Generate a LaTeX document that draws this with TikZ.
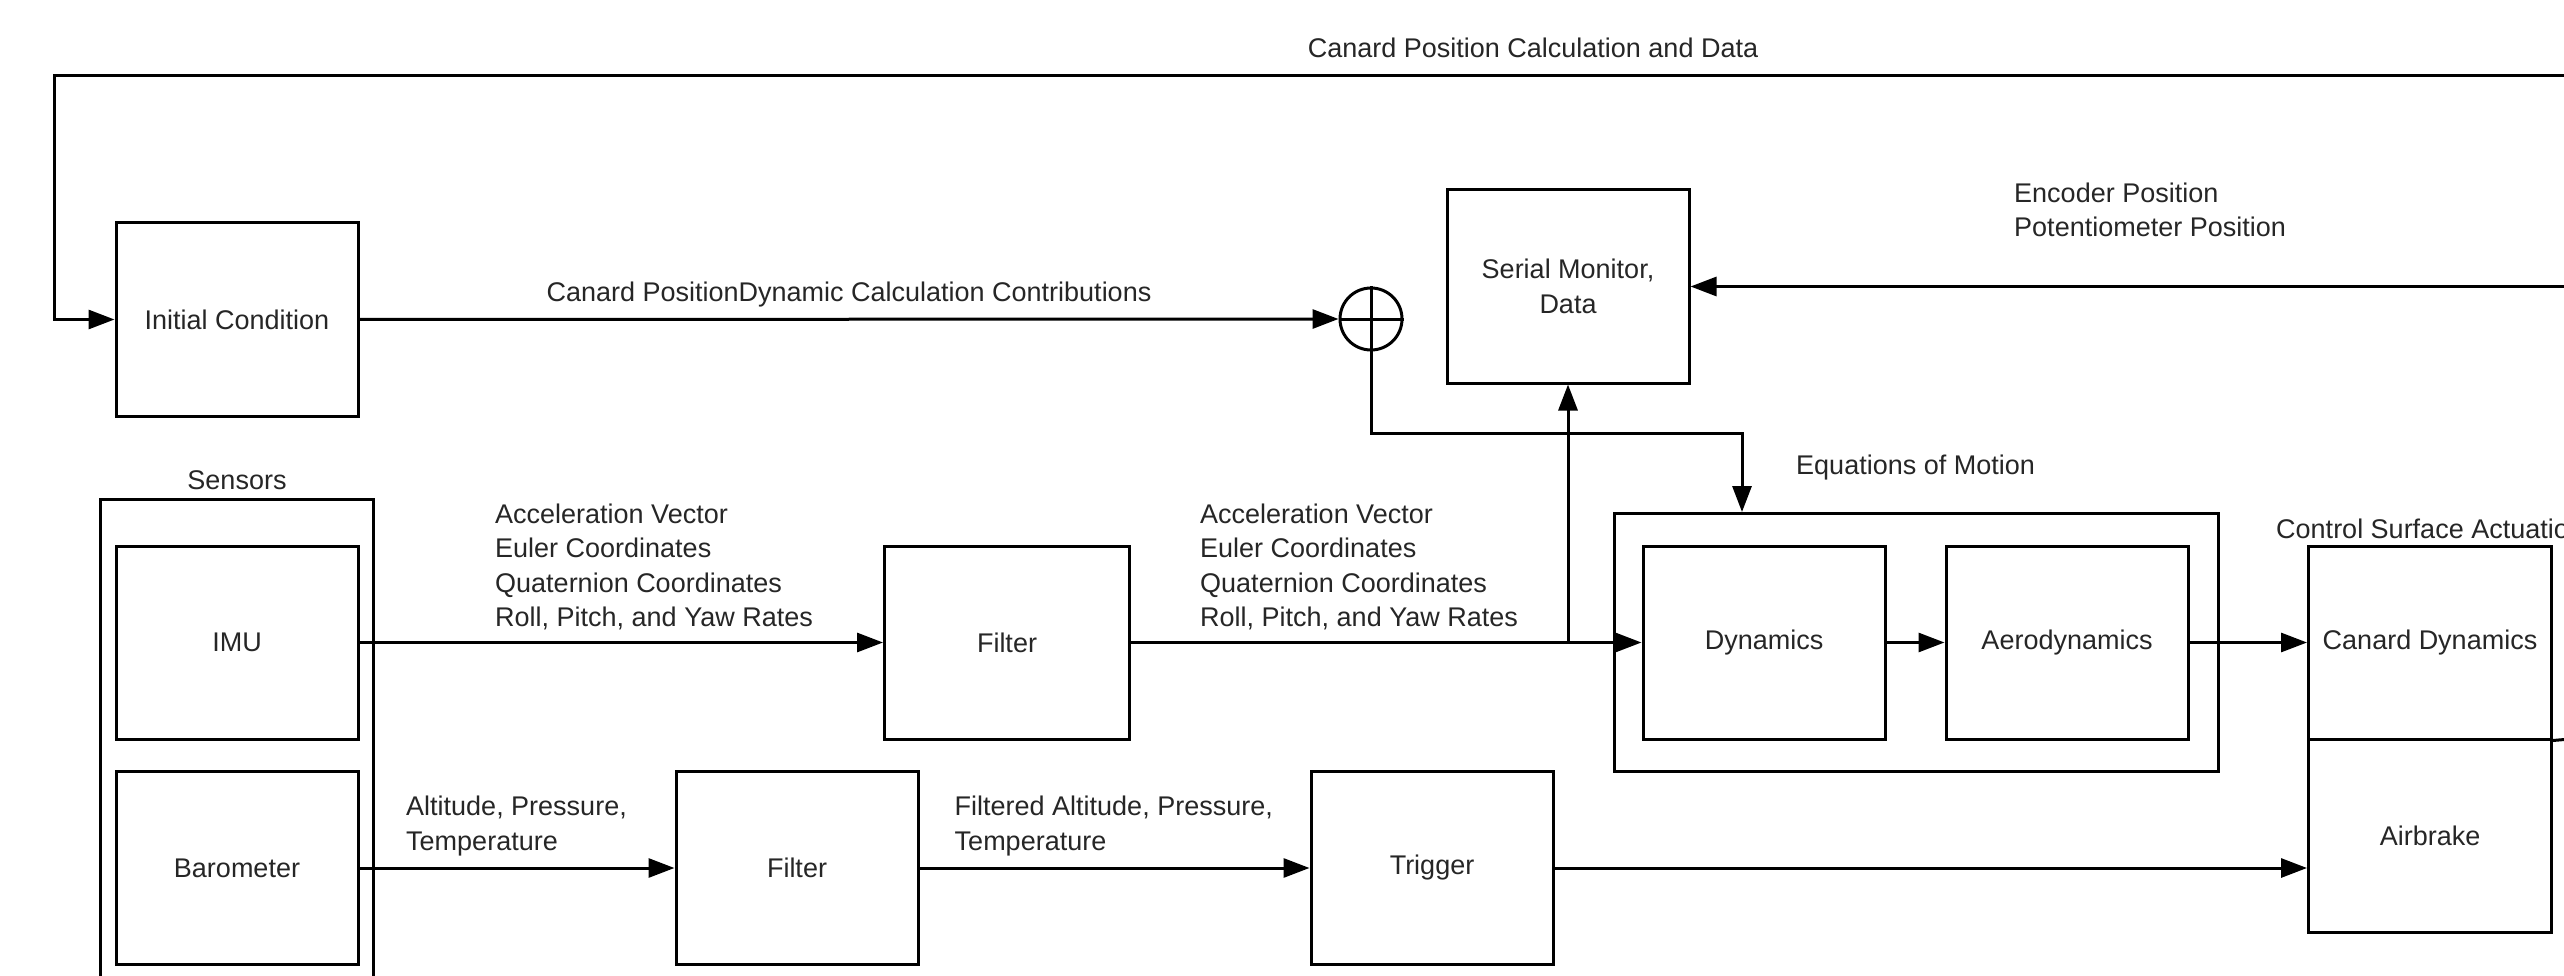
\documentclass[tikz,border=0pt]{standalone}
\usepackage{fontspec}
\setmainfont{Liberation Sans}
\usetikzlibrary{arrows.meta}
\newcommand\dfont{\fontsize{27}{34.5}\selectfont}
\begin{document}
\begin{tikzpicture}[x=1pt,y=-1pt]
\tikzset{
 blk/.style={draw, line width=3pt, inner sep=0pt, minimum width=242pt, minimum height=193pt, font=\dfont, align=center, text=black!85},
 lab/.style={inner sep=0pt, font=\dfont, align=left, text=black!85},
 arr/.style={line width=3pt, -{Triangle[length=26pt,width=19pt]}},
 ln/.style={line width=3pt},
}
\useasboundingbox (0,0) rectangle (2564,976);
\fill[white] (0,0) rectangle (2564,976);
\clip (0,0) rectangle (2564,976);

% blocks
\node[blk] (init) at (237,319.5) {Initial Condition};
\node[circle, draw, line width=3pt, minimum size=62pt, inner sep=0pt] (sum) at (1371,319) {};
\draw[ln] (sum.north) -- (sum.south);
\draw[ln] (sum.west) -- (sum.east);
\node[blk] (serial) at (1568,286.5) {Serial Monitor,\\Data};
\node[draw, line width=3pt, minimum width=273pt, minimum height=600pt, anchor=north] (sensors) at (237,498) {};
\node[lab] (senslab) at (237,480) {Sensors};
\node[blk] (imu) at (237,642.5) {IMU};
\node[blk] (baro) at (237,868) {Barometer};
\node[blk, minimum width=245pt] (filt1) at (1007,642.5) {Filter};
\node[blk] (filt2) at (797,868) {Filter};
\node[blk] (trig) at (1432,868) {Trigger};
\node[draw, line width=3pt, minimum width=604pt, minimum height=258pt] (eom) at (1916,642.5) {};
\node[blk] (dyn) at (1764,642.5) {Dynamics};
\node[blk] (aero) at (2067,642.5) {Aerodynamics};
\node[blk, minimum width=243pt] (canard) at (2430,642.5) {Canard Dynamics};
\node[blk, minimum width=243pt] (air) at (2430,835.5) {Airbrake};

% labels
\node[lab] (l1) at (1533,48) {Canard Position Calculation and Data};
\node[lab] (l2) at (849,295) {Canard PositionDynamic Calculation Contributions};
\node[lab, anchor=west] (l3) at (2014,210) {Encoder Position\\Potentiometer Position};
\node[lab, anchor=west] (l4) at (495,567) {Acceleration Vector\\Euler Coordinates\\Quaternion Coordinates\\Roll, Pitch, and Yaw Rates};
\node[lab, anchor=west] (l5) at (1200,567) {Acceleration Vector\\Euler Coordinates\\Quaternion Coordinates\\Roll, Pitch, and Yaw Rates};
\node[lab, anchor=west] (l6) at (406,826) {Altitude, Pressure,\\Temperature};
\node[lab, anchor=west] (l7) at (954.5,826) {Filtered Altitude, Pressure,\\Temperature};
\node[lab, anchor=west] (l8) at (1796,468) {Equations of Motion};
\node[lab, anchor=west] (l9) at (2276,529) {Control Surface Actuation};

% connectors
\coordinate (fbR) at (2570,76);
\coordinate (fbL) at (54.5,76);
\draw[arr] (fbR) -- (fbL) |- (init.west);
\draw[arr] (init.east) -- (sum.west);
\coordinate (eomin) at (1742,433);
\draw[arr] (sum.south) |- (eomin) -- (eomin |- eom.north);
\coordinate (encR) at (2570,286.5);
\draw[arr] (encR) -- (serial.east);
\draw[arr] (imu.east) -- (filt1.west);
\draw[arr] (filt1.east) -- (dyn.west);
\draw[arr] (filt1.east -| serial.south) -- (serial.south);
\draw[arr] (dyn.east) -- (aero.west);
\draw[arr] (aero.east) -- (canard.west);
\draw[arr] (baro.east) -- (filt2.west);
\draw[arr] (filt2.east) -- (trig.west);
\draw[arr] (trig.east) -- (trig.east -| air.west);
\coordinate (divR) at (2570,739);
\draw[ln] (canard.south east) -- (divR);
\end{tikzpicture}
\end{document}
